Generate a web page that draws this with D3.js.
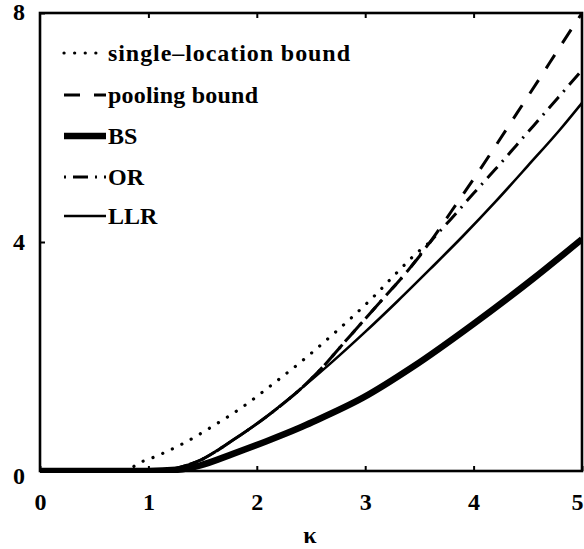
<!DOCTYPE html>
<html>
<head>
<meta charset="utf-8">
<script src="https://cdn.jsdelivr.net/npm/d3@7/dist/d3.min.js"></script>
<style>
html,body{margin:0;padding:0;background:#fff;}
svg{display:block;}
text{font-family:"Liberation Serif","Times New Roman",serif;font-weight:bold;fill:#000;}
</style>
</head>
<body>
<svg id="chart" width="584" height="549"></svg>
<script>
// ---- data ----
const xTicks = [0, 1, 2, 3, 4, 5];
const yTicks = [0, 4, 8];
const xLabel = "κ";

const singleK = [0, 0.8, 0.9, 1.01, 1.31, 1.6, 1.87, 2.15, 2.39, 2.74, 3.07, 3.3, 3.46, 3.6];
const singleV = [0, 0, 0.13, 0.21, 0.47, 0.79, 1.12, 1.52, 1.88, 2.45, 3.03, 3.48, 3.78, 4.0];

const poolK = [0, 1.0, 1.15, 1.26, 1.48, 1.78, 2.09, 2.39, 2.55, 2.86, 3.17, 3.38, 3.6, 3.8, 4.0, 4.2, 4.4, 4.6, 4.8, 5.0];
const poolV = [0, 0, 0.01, 0.05, 0.19, 0.54, 0.95, 1.41, 1.70, 2.36, 3.02, 3.47, 4.0, 4.55, 5.1, 5.67, 6.25, 6.83, 7.42, 8.0];

const bsK = [0, 0.5, 1.0, 1.26, 1.48, 1.78, 2.09, 2.39, 2.52, 2.98, 3.44, 4.0, 4.55, 5.0];
const bsV = [0, 0, 0, 0.02, 0.1, 0.3, 0.52, 0.75, 0.86, 1.28, 1.82, 2.57, 3.36, 4.05];

const orK = [0, 1.0, 1.15, 1.26, 1.48, 1.78, 2.09, 2.39, 2.55, 2.86, 3.17, 3.38, 3.6, 3.8, 4.0, 4.2, 4.4, 4.64, 5.0];
const orV = [0, 0, 0.01, 0.05, 0.19, 0.54, 0.95, 1.41, 1.70, 2.36, 3.02, 3.47, 4.0, 4.42, 4.85, 5.27, 5.7, 6.22, 7.0];

const llrK = [0, 1.0, 1.15, 1.26, 1.48, 1.78, 2.09, 2.39, 2.68, 3.0, 3.3, 3.6, 3.9, 4.2, 4.5, 4.8, 5.0];
const llrV = [0, 0, 0.01, 0.05, 0.19, 0.54, 0.95, 1.41, 1.88, 2.43, 2.97, 3.53, 4.10, 4.70, 5.33, 5.97, 6.43];

const seriesNames = ["single\u2013location bound", "pooling bound", "BS", "OR", "LLR"];

// ---- layout ----
const svg = d3.select("#chart");
const L = 40, R = 582, T = 13, B = 471;
const x = d3.scaleLinear().domain([0, 5]).range([L, R]);
const y = d3.scaleLinear().domain([0, 8]).range([B, T]);

const styles = [
  {w: 3.2, dash: "0.1,10.5", cap: "round"},
  {w: 3, dash: "16,14", cap: "butt"},
  {w: 6.5, dash: null, cap: "butt"},
  {w: 3, dash: "2,7,15,7", cap: "butt"},
  {w: 2.6, dash: null, cap: "butt"}
];
const data = [
  [singleK, singleV], [poolK, poolV], [bsK, bsV], [orK, orV], [llrK, llrV]
].map(([k, v]) => k.map((kk, i) => [kk, v[i]]));

const line = d3.line().x(d => x(d[0])).y(d => y(d[1])).curve(d3.curveMonotoneX);

svg.append("clipPath").attr("id", "clp").append("rect")
  .attr("x", L).attr("y", T - 2).attr("width", R - L).attr("height", B - T + 4);

const g = svg.append("g").attr("clip-path", "url(#clp)");
data.forEach((d, i) => {
  g.append("path").datum(d)
    .attr("d", line)
    .attr("fill", "none")
    .attr("stroke", "#000")
    .attr("stroke-width", styles[i].w)
    .attr("stroke-linecap", styles[i].cap)
    .attr("stroke-linejoin", "round")
    .attr("stroke-dasharray", styles[i].dash);
});

// frame
svg.append("rect").attr("x", L).attr("y", T).attr("width", R - L).attr("height", B - T)
  .attr("fill", "none").attr("stroke", "#000").attr("stroke-width", 2.6);

// axes
const xAxis = svg.append("g").attr("transform", `translate(0,${B})`)
  .call(d3.axisBottom(x).tickValues(xTicks).tickSize(-5).tickPadding(22).tickFormat(d3.format("d")));
const xTop = svg.append("g").attr("transform", `translate(0,${T})`)
  .call(d3.axisTop(x).tickValues([1, 2, 3, 4]).tickSize(-5).tickFormat(""));
const yAxis = svg.append("g").attr("transform", `translate(${L},0)`)
  .call(d3.axisLeft(y).tickValues(yTicks).tickSize(-5).tickPadding(15).tickFormat(d3.format("d")));

[xAxis, xTop, yAxis].forEach(a => {
  a.select(".domain").remove();
  a.selectAll(".tick line").attr("stroke", "#000").attr("stroke-width", 2);
  a.selectAll("text").attr("font-size", 24).attr("font-family", "Liberation Serif").attr("font-weight", "bold").attr("fill", "#000");
});
xAxis.selectAll(".tick").filter(d => d === 5).select("text").attr("text-anchor", "end").attr("dx", 1);
yAxis.selectAll(".tick").filter(d => d === 0).select("text").attr("dy", "0.5em");
yAxis.selectAll(".tick").filter(d => d === 8).select("text").attr("dy", "0.25em");

svg.append("text").attr("x", 310).attr("y", 543).attr("text-anchor", "middle")
  .attr("font-size", 24).text(xLabel);

// legend
const legRows = [53, 95, 136, 177, 216];
const legWidths = [242, 150, null, null, null];
seriesNames.forEach((name, i) => {
  const yy = legRows[i];
  svg.append("line").attr("x1", 64).attr("x2", 106).attr("y1", yy).attr("y2", yy)
    .attr("stroke", "#000")
    .attr("stroke-width", styles[i].w)
    .attr("stroke-linecap", styles[i].cap)
    .attr("stroke-dasharray", styles[i].dash);
  const t = svg.append("text").attr("x", 108).attr("y", yy + 8).attr("font-size", 24).text(name);
  if (legWidths[i]) t.attr("textLength", legWidths[i]).attr("lengthAdjust", "spacing");
});
</script>
</body>
</html>
